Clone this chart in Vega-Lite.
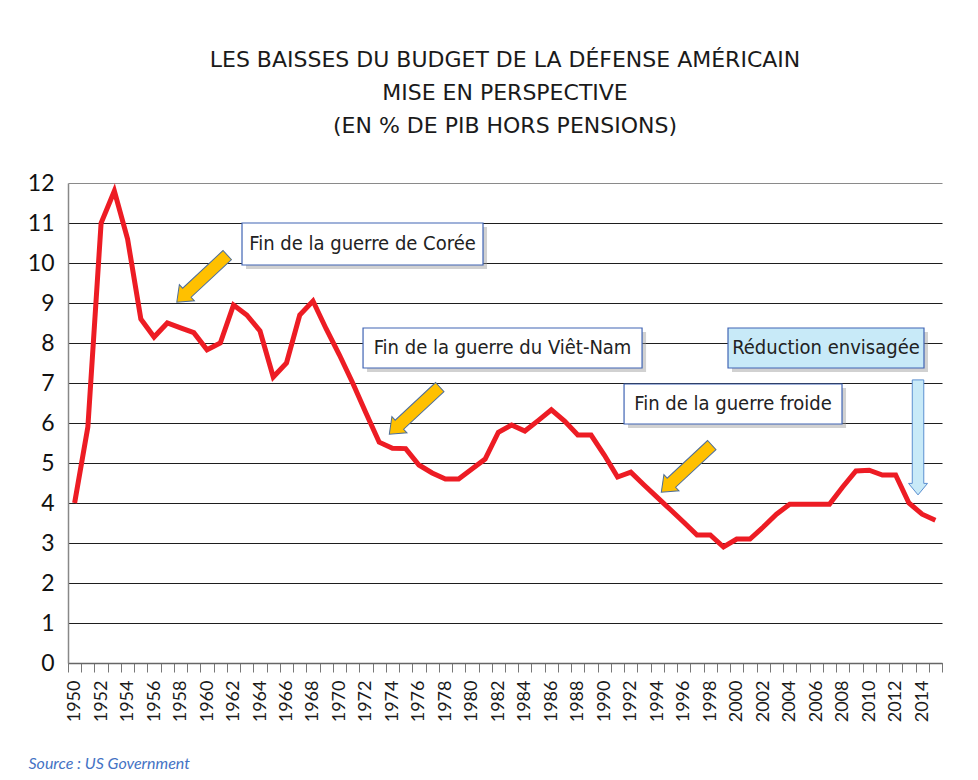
{
  "$schema": "https://vega.github.io/schema/vega-lite/v6.json",
  "width": 874,
  "height": 480,
  "autosize": "none",
  "padding": {"left": 68, "top": 183, "right": 36, "bottom": 117},
  "background": "white",
  "config": {"view": {"stroke": null}},
  "title": {
    "text": ["LES BAISSES DU BUDGET DE LA DÉFENSE AMÉRICAIN", "MISE EN PERSPECTIVE", "(EN % DE PIB HORS PENSIONS)"],
    "font": "DejaVu Sans",
    "fontSize": 22,
    "fontWeight": "normal",
    "color": "#1a1a1a",
    "lineHeight": 33,
    "anchor": "middle",
    "frame": "group",
    "offset": 34
  },
  "datasets": {
    "budget": [
      {"year": 1950, "pct": 4.0}, {"year": 1951, "pct": 5.9}, {"year": 1952, "pct": 11.0}, {"year": 1953, "pct": 11.8},
      {"year": 1954, "pct": 10.6}, {"year": 1955, "pct": 8.6}, {"year": 1956, "pct": 8.15}, {"year": 1957, "pct": 8.5},
      {"year": 1958, "pct": 8.38}, {"year": 1959, "pct": 8.26}, {"year": 1960, "pct": 7.83}, {"year": 1961, "pct": 8.0},
      {"year": 1962, "pct": 8.95}, {"year": 1963, "pct": 8.7}, {"year": 1964, "pct": 8.3}, {"year": 1965, "pct": 7.15},
      {"year": 1966, "pct": 7.5}, {"year": 1967, "pct": 8.7}, {"year": 1968, "pct": 9.05}, {"year": 1969, "pct": 8.35},
      {"year": 1970, "pct": 7.7}, {"year": 1971, "pct": 7.0}, {"year": 1972, "pct": 6.25}, {"year": 1973, "pct": 5.52},
      {"year": 1974, "pct": 5.37}, {"year": 1975, "pct": 5.36}, {"year": 1976, "pct": 4.95}, {"year": 1977, "pct": 4.75},
      {"year": 1978, "pct": 4.6}, {"year": 1979, "pct": 4.6}, {"year": 1980, "pct": 4.85}, {"year": 1981, "pct": 5.1},
      {"year": 1982, "pct": 5.77}, {"year": 1983, "pct": 5.95}, {"year": 1984, "pct": 5.8}, {"year": 1985, "pct": 6.06},
      {"year": 1986, "pct": 6.33}, {"year": 1987, "pct": 6.05}, {"year": 1988, "pct": 5.7}, {"year": 1989, "pct": 5.7},
      {"year": 1990, "pct": 5.2}, {"year": 1991, "pct": 4.65}, {"year": 1992, "pct": 4.77}, {"year": 1993, "pct": 4.45},
      {"year": 1994, "pct": 4.14}, {"year": 1995, "pct": 3.83}, {"year": 1996, "pct": 3.52}, {"year": 1997, "pct": 3.2},
      {"year": 1998, "pct": 3.2}, {"year": 1999, "pct": 2.9}, {"year": 2000, "pct": 3.1}, {"year": 2001, "pct": 3.1},
      {"year": 2002, "pct": 3.4}, {"year": 2003, "pct": 3.72}, {"year": 2004, "pct": 3.97}, {"year": 2005, "pct": 3.97},
      {"year": 2006, "pct": 3.97}, {"year": 2007, "pct": 3.97}, {"year": 2008, "pct": 4.4}, {"year": 2009, "pct": 4.8},
      {"year": 2010, "pct": 4.82}, {"year": 2011, "pct": 4.7}, {"year": 2012, "pct": 4.7}, {"year": 2013, "pct": 4.0},
      {"year": 2014, "pct": 3.72}, {"year": 2015, "pct": 3.57}
    ],
    "boxes": [
      {"label": "Fin de la guerre de Corée", "kind": "fin", "x1": 1962.64, "x2": 1980.84, "y1": 9.95, "y2": 11.0, "xc": 1971.74, "yc": 10.475},
      {"label": "Fin de la guerre du Viêt-Nam", "kind": "fin", "x1": 1971.78, "x2": 1992.85, "y1": 7.375, "y2": 8.375, "xc": 1982.315, "yc": 7.875},
      {"label": "Fin de la guerre froide", "kind": "fin", "x1": 1991.49, "x2": 2007.95, "y1": 5.975, "y2": 6.975, "xc": 1999.72, "yc": 6.475},
      {"label": "Réduction envisagée", "kind": "reduction", "x1": 1999.34, "x2": 2014.14, "y1": 7.375, "y2": 8.375, "xc": 2006.74, "yc": 7.875}
    ],
    "yellowArrows": [
      {"year": 1959.62, "value": 9.61},
      {"year": 1975.67, "value": 6.31},
      {"year": 1996.21, "value": 4.86}
    ],
    "blueArrow": [
      {"year": 2013.69, "value": 5.64}
    ]
  },
  "layer": [
    {
      "data": {"name": "budget"},
      "mark": {"type": "line", "color": "#ED1C24", "strokeWidth": 5, "strokeJoin": "miter"},
      "encoding": {
        "x": {
          "field": "year", "type": "quantitative",
          "scale": {"domain": [1949.5, 2015.5], "nice": false, "zero": false},
          "axis": {
            "values": [1949.5, 1950.5, 1951.5, 1952.5, 1953.5, 1954.5, 1955.5, 1956.5, 1957.5, 1958.5, 1959.5, 1960.5, 1961.5, 1962.5, 1963.5, 1964.5, 1965.5, 1966.5, 1967.5, 1968.5, 1969.5, 1970.5, 1971.5, 1972.5, 1973.5, 1974.5, 1975.5, 1976.5, 1977.5, 1978.5, 1979.5, 1980.5, 1981.5, 1982.5, 1983.5, 1984.5, 1985.5, 1986.5, 1987.5, 1988.5, 1989.5, 1990.5, 1991.5, 1992.5, 1993.5, 1994.5, 1995.5, 1996.5, 1997.5, 1998.5, 1999.5, 2000.5, 2001.5, 2002.5, 2003.5, 2004.5, 2005.5, 2006.5, 2007.5, 2008.5, 2009.5, 2010.5, 2011.5, 2012.5, 2013.5, 2014.5, 2015.5],
            "tickCount": 100,
            "labelExpr": "datum.value < 2015 && (datum.value + 0.5) % 2 == 0 ? '' + (datum.value + 0.5) : ''",
            "labelOffset": 6.62,
            "labelAngle": -90,
            "labelFlush": false,
            "labelOverlap": false,
            "labelFont": "Lato",
            "labelFontSize": 18,
            "labelColor": "#1a1a1a",
            "labelPadding": 8,
            "ticks": true,
            "tickSize": 9,
            "tickColor": "#777777",
            "tickWidth": 1,
            "domain": true,
            "domainColor": "#666666",
            "domainWidth": 1.5,
            "grid": false,
            "title": "Source : US Government",
            "titleFont": "Lato",
            "titleFontSize": 16,
            "titleFontStyle": "italic",
            "titleFontWeight": "normal",
            "titleColor": "#4472C4",
            "titleAlign": "left",
            "titleBaseline": "alphabetic",
            "titleX": -40,
            "titleY": 105
          }
        },
        "y": {
          "field": "pct", "type": "quantitative",
          "scale": {"domain": [0, 12], "nice": false},
          "axis": {
            "values": [0, 1, 2, 3, 4, 5, 6, 7, 8, 9, 10, 11, 12],
            "tickCount": 20,
            "format": "d",
            "labelOverlap": false,
            "grid": true,
            "gridColor": {"condition": {"test": "datum.value == 12", "value": "#8a8a8a"}, "value": "#1e1e1e"},
            "gridWidth": 1.2,
            "ticks": false,
            "domain": true,
            "domainColor": "#888888",
            "domainWidth": 1.5,
            "labelFont": "Lato",
            "labelFontSize": 23,
            "labelColor": "#111111",
            "labelPadding": 14,
            "title": null
          }
        }
      }
    },
    {
      "data": {"name": "boxes"},
      "mark": {"type": "rect", "color": "#9a9a9a", "opacity": 0.45, "xOffset": 4, "x2Offset": 4, "yOffset": 4, "y2Offset": 4},
      "encoding": {
        "x": {"field": "x1", "type": "quantitative"},
        "x2": {"field": "x2"},
        "y": {"field": "y1", "type": "quantitative"},
        "y2": {"field": "y2"}
      }
    },
    {
      "data": {"name": "boxes"},
      "mark": {"type": "rect", "stroke": "#4064B4", "strokeWidth": 1.2},
      "encoding": {
        "x": {"field": "x1", "type": "quantitative"},
        "x2": {"field": "x2"},
        "y": {"field": "y1", "type": "quantitative"},
        "y2": {"field": "y2"},
        "fill": {"field": "kind", "type": "nominal", "scale": {"domain": ["fin", "reduction"], "range": ["#FFFFFF", "#C8EAF8"]}, "legend": null}
      }
    },
    {
      "data": {"name": "boxes"},
      "mark": {"type": "text", "font": "Liberation Sans Narrow, DejaVu Sans Condensed, Roboto", "fontSize": 20, "color": "#222222", "align": "center", "baseline": "middle"},
      "encoding": {
        "x": {"field": "xc", "type": "quantitative"},
        "y": {"field": "yc", "type": "quantitative"},
        "text": {"field": "label"}
      }
    },
    {
      "data": {"name": "yellowArrows"},
      "mark": {"type": "point", "shape": "M-1,-0.18L0.6,-0.18L0.6,-0.32L1,0L0.6,0.32L0.6,0.18L-1,0.18Z", "filled": true, "size": 4761, "angle": 137, "fill": "#FFC000", "stroke": "#4D6E9A", "strokeWidth": 1, "opacity": 1},
      "encoding": {
        "x": {"field": "year", "type": "quantitative"},
        "y": {"field": "value", "type": "quantitative"}
      }
    },
    {
      "data": {"name": "blueArrow"},
      "mark": {"type": "point", "shape": "M-1,-0.1L0.8,-0.1L0.8,-0.165L1,0L0.8,0.165L0.8,0.1L-1,0.1Z", "filled": true, "size": 13225, "angle": 90, "fill": "#C8EAF8", "stroke": "#5B8FD0", "strokeWidth": 1, "opacity": 1},
      "encoding": {
        "x": {"field": "year", "type": "quantitative"},
        "y": {"field": "value", "type": "quantitative"}
      }
    }
  ]
}
